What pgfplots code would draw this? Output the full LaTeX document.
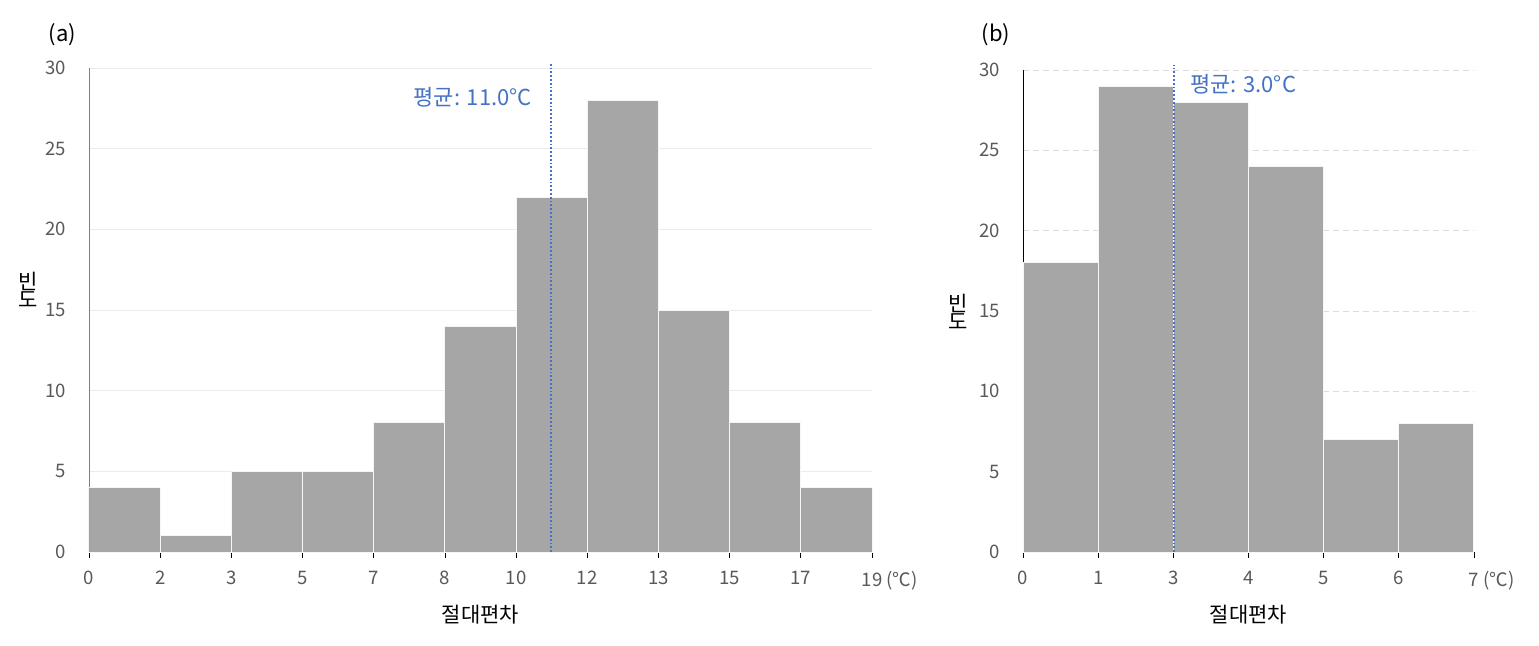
\documentclass[border=0pt]{standalone}
\usepackage{pgfplots}
\pgfplotsset{compat=1.18}
\usepackage{fontspec}
\setmainfont{Noto Sans CJK KR}
\definecolor{barfill}{HTML}{A3A3A3}
\definecolor{meanblue}{HTML}{4472C4}
\definecolor{ticktext}{HTML}{595959}
\definecolor{gridc}{HTML}{EBEBEB}
\pgfplotsset{
  histo/.style={
    scale only axis,
    ymin=0, ymax=30,
    ytick={0,5,...,30},
    axis x line*=bottom,
    axis y line*=left,
    ymajorgrids=true,
    y axis line style={-},
    x axis line style={-, draw=gridc!80!gray},
    ytick style={draw=none},
    xtick style={draw=black, thin},
    tick align=outside,
    major tick length=3pt,
    xtick=data,
    /pgf/number format/assume math mode=true,
    ticklabel style={font=\fontsize{9.3}{10}\selectfont, text=ticktext},
    yticklabel style={xshift=-5pt},
    xticklabel style={yshift=-3pt},
    clip=false,
  },
  bars/.style={ybar interval, fill=barfill, fill opacity=0.97, draw=white!92!gray, line width=0.5pt},
  meanline/.style={meanblue, densely dotted, line width=0.9pt},
}
\begin{document}
\begin{tikzpicture}
\useasboundingbox (0,0) rectangle (769.5pt,322.5pt);
% (a)
\begin{axis}[histo,
  at={(44.5pt,46.5pt)}, anchor=origin,
  width=391.5pt, height=242pt,
  xmin=0, xmax=11,
  xticklabels={0,2,3,5,7,8,10,12,13,15,17,19\rlap{ (℃)}},
  y axis line style={draw=gray},
  major grid style={draw=gridc, line width=0.5pt},
]
\addplot[bars] coordinates {
  (0,4)(1,1)(2,5)(3,5)(4,8)(5,14)(6,22)(7,28)(8,15)(9,8)(10,4)(11,4)
};
\addplot[meanline] coordinates {(6.49,0)(6.49,30.3)};
\node[anchor=east, text=meanblue, font=\fontsize{11}{12}\selectfont] at (axis cs:6.32,28.2) {평균: 11.0°C};
\node[font=\fontsize{10.5}{12}\selectfont] at (axis description cs:0.5,-0.13) {절대편차};
\node[font=\fontsize{10.5}{12}\selectfont, align=center, inner sep=0pt] at (axis description cs:-0.078,0.541) {빈\\[-3pt]도};
\node[font=\fontsize{11}{12}\selectfont] at (axis description cs:-0.034,1.068) {(a)};
\end{axis}
% (b)
\begin{axis}[histo,
  at={(511.5pt,46.5pt)}, anchor=origin,
  width=225.5pt, height=241pt,
  xmin=0, xmax=6,
  xticklabels={0,1,3,4,5,6,7\rlap{ (℃)}},
  y axis line style={draw=black},
  major grid style={draw=gridc!85!gray, densely dashed, line width=0.4pt},
]
\addplot[bars] coordinates {
  (0,18)(1,29)(2,28)(3,24)(4,7)(5,8)(6,8)
};
\addplot[meanline] coordinates {(2.005,0)(2.005,30.3)};
\node[anchor=west, text=meanblue, font=\fontsize{11}{12}\selectfont] at (axis cs:2.13,29.1) {평균: 3.0°C};
\node[font=\fontsize{10.5}{12}\selectfont] at (axis description cs:0.5,-0.13) {절대편차};
\node[font=\fontsize{10.5}{12}\selectfont, align=center, inner sep=0pt] at (axis description cs:-0.144,0.498) {빈\\[-3pt]도};
\node[font=\fontsize{11}{12}\selectfont] at (axis description cs:-0.060,1.073) {(b)};
\end{axis}
\end{tikzpicture}
\end{document}
